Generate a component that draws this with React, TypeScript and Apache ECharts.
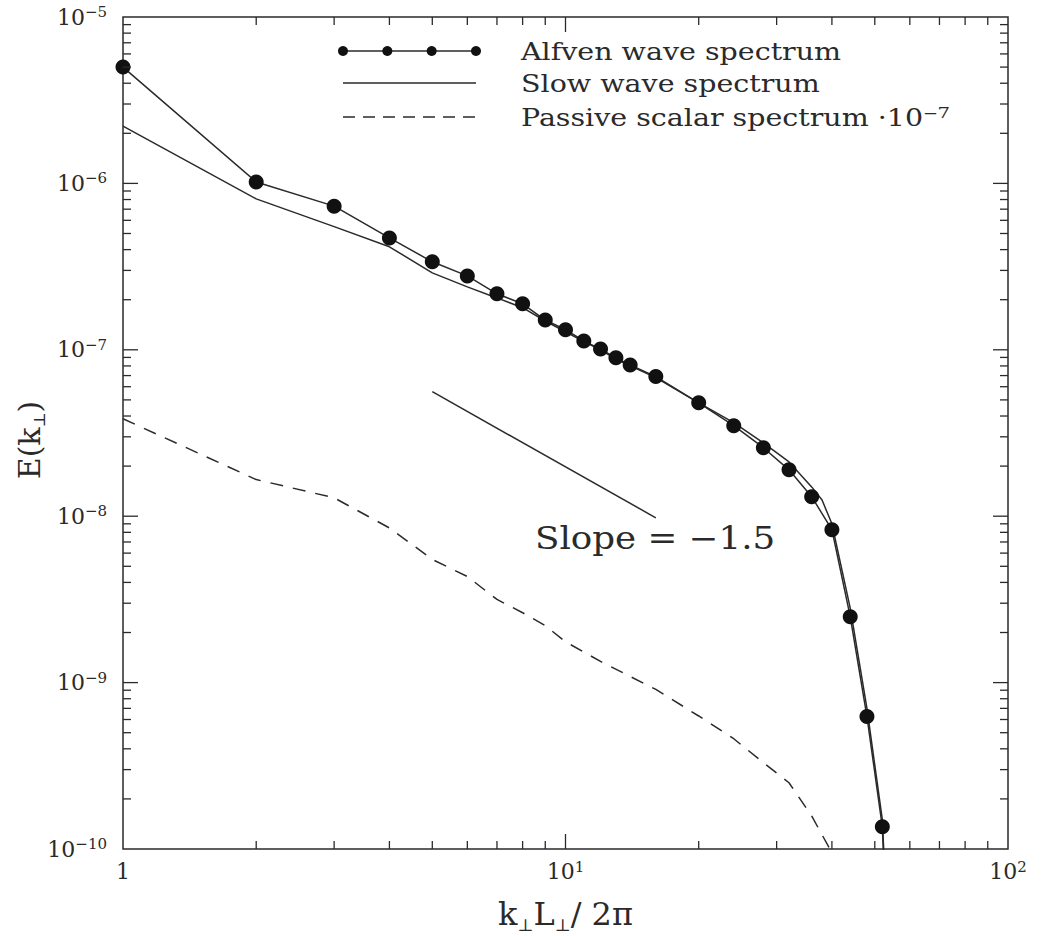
import React, { useEffect, useRef } from 'react';
import * as echarts from 'echarts';

// Wavenumber k⊥L⊥/2π and energy spectra E(k⊥)
const kAlfven = [1, 2, 3, 4, 5, 6, 7, 8, 9, 10, 11, 12, 13, 14, 16, 20, 24, 28, 32, 36, 40, 44, 48, 52, 53];
const eAlfven = [
  5.0e-6, 1.02e-6, 7.3e-7, 4.7e-7, 3.38e-7, 2.78e-7, 2.17e-7, 1.89e-7, 1.51e-7, 1.32e-7, 1.13e-7, 1.01e-7,
  8.95e-8, 8.1e-8, 6.9e-8, 4.8e-8, 3.5e-8, 2.58e-8, 1.9e-8, 1.31e-8, 8.3e-9, 2.49e-9, 6.25e-10, 1.36e-10, 4e-11,
];

const kSlow = [1, 2, 3, 4, 5, 6, 7, 8, 9, 10, 11, 12, 13, 14, 16, 20, 24, 28, 32, 36, 38, 40, 44, 48, 52, 53];
const eSlow = [
  2.21e-6, 8.07e-7, 5.5e-7, 4.16e-7, 2.9e-7, 2.39e-7, 2.05e-7, 1.79e-7, 1.49e-7, 1.28e-7, 1.12e-7, 1.0e-7,
  8.8e-8, 8.0e-8, 6.8e-8, 4.8e-8, 3.65e-8, 2.76e-8, 2.12e-8, 1.5e-8, 1.25e-8, 9.0e-9, 2.8e-9, 7e-10, 1.5e-10, 5e-11,
];

const kPassive = [1, 2, 3, 4, 5, 6, 7, 8, 9, 10, 12, 16, 20, 24, 28, 32, 36, 40];
const ePassive = [
  3.85e-8, 1.66e-8, 1.29e-8, 8.5e-9, 5.5e-9, 4.34e-9, 3.16e-9, 2.63e-9, 2.2e-9, 1.76e-9, 1.34e-9, 9.1e-10,
  6.3e-10, 4.6e-10, 3.3e-10, 2.5e-10, 1.58e-10, 9.5e-11,
];

// Reference power law
const slopeValue = -1.5;
const slopeK = [5, 16];
const slopeStartE = 5.6e-8;

// Axes
const xMin = 1;
const xMax = 100;
const yMin = 1e-10;
const yMax = 1e-5;
const xTickValues = [1, 10, 100];
const xTickBases = ['1', '10', '10'];
const xTickExps = ['', '1', '2'];
const yTickExponents = [-10, -9, -8, -7, -6, -5];
const yTickExpLabels = ['−10', '−9', '−8', '−7', '−6', '−5'];
const minorMultipliers = [2, 3, 4, 5, 6, 7, 8, 9];

const legendNames = ['Alfven wave spectrum', 'Slow wave spectrum', 'Passive scalar spectrum ·10⁻⁷'];
const slopeLabel = 'Slope = −1.5';

const ink = '#2a2a2a';
const serif = 'DejaVu Serif';

const zip = (xs: number[], ys: number[]) => xs.map((x, i) => [x, ys[i]]);

function buildTicks() {
  const ticks: number[][] = [];
  // x ticks: [x, y, kind 0, length]
  for (const d of [0, 1]) {
    for (const m of minorMultipliers) ticks.push([m * Math.pow(10, d), yMin, 0, 8]);
  }
  ticks.push([10, yMin, 0, 15]);
  // y ticks: [x, y, kind 1, length]
  for (let d = -10; d <= -6; d++) {
    for (const m of minorMultipliers) ticks.push([xMin, m * Math.pow(10, d), 1, 8]);
  }
  for (const d of [-9, -8, -7, -6]) ticks.push([xMin, Math.pow(10, d), 1, 15]);
  return ticks;
}

const powerRich = {
  b: { fontFamily: serif, fontSize: 22, color: ink, lineHeight: 25 },
  s: { fontFamily: serif, fontSize: 15, color: ink, lineHeight: 19, verticalAlign: 'top' },
};

export default function App() {
  const ref = useRef<HTMLDivElement>(null);

  useEffect(() => {
    if (!ref.current) return;
    const chart = echarts.init(ref.current, undefined, { renderer: 'svg' });

    const slopeData = [
      [slopeK[0], slopeStartE],
      [slopeK[1], slopeStartE * Math.pow(slopeK[1] / slopeK[0], slopeValue)],
    ];

    const legendX0 = 343;
    const legendX1 = 476;
    const legendRows = [51, 83, 117];
    const legendTextX = 521;
    const markerXs = [0, 1, 2, 3].map((i) => legendX0 + ((legendX1 - legendX0) * i) / 3);

    const option: any = {
      animation: false,
      backgroundColor: '#ffffff',
      grid: {
        left: 123,
        right: 33,
        top: 17,
        bottom: 87,
        containLabel: false,
        outerBoundsMode: 'none',
        show: true,
        borderColor: ink,
        borderWidth: 1.5,
        backgroundColor: 'transparent',
      },
      xAxis: {
        type: 'log',
        logBase: 10,
        min: xMin,
        max: xMax,
        axisLine: { show: false },
        axisTick: { show: false },
        splitLine: { show: false },
        axisLabel: {
          margin: 10,
          fontFamily: serif,
          fontSize: 22,
          color: ink,
          rich: powerRich,
          formatter: (v: number) => {
            const i = xTickValues.findIndex((t) => Math.abs(Math.log10(t) - Math.log10(v)) < 1e-6);
            if (i < 0) return '';
            return xTickExps[i] ? `{b|${xTickBases[i]}}{s|${xTickExps[i]}}` : `{b|${xTickBases[i]}}`;
          },
        },
        name: '{n|k}{s|⊥}{n|L}{s|⊥}{n|/ 2π}',
        nameLocation: 'middle',
        nameMoveOverlap: false,
        nameGap: 46,
        nameTextStyle: {
          color: ink,
          fontFamily: serif,
          fontSize: 32,
          rich: {
            n: { fontFamily: serif, fontSize: 32, color: ink, lineHeight: 38 },
            s: { fontFamily: serif, fontSize: 17, color: ink, lineHeight: 10, verticalAlign: 'bottom' },
          },
        },
      },
      yAxis: {
        type: 'log',
        logBase: 10,
        min: yMin,
        max: yMax,
        axisLine: { show: false },
        axisTick: { show: false },
        splitLine: { show: false },
        axisLabel: {
          margin: 16,
          fontFamily: serif,
          fontSize: 22,
          color: ink,
          rich: powerRich,
          formatter: (v: number) => {
            const e = Math.round(Math.log10(v));
            const i = yTickExponents.indexOf(e);
            return i >= 0 ? `{b|10}{s|${yTickExpLabels[i]}}` : '';
          },
        },
        name: '{n|E(k}{s|⊥}{n|)}',
        nameLocation: 'middle',
        nameMoveOverlap: false,
        nameRotate: 90,
        nameGap: 76,
        nameTextStyle: {
          color: ink,
          fontFamily: serif,
          fontSize: 30,
          padding: [0, 14, 0, 0],
          rich: {
            n: { fontFamily: serif, fontSize: 30, color: ink, lineHeight: 36 },
            s: { fontFamily: serif, fontSize: 16, color: ink, lineHeight: 10, verticalAlign: 'bottom' },
          },
        },
      },
      series: [
        {
          name: legendNames[2],
          type: 'line',
          data: zip(kPassive, ePassive),
          showSymbol: false,
          symbol: 'none',
          lineStyle: { color: ink, width: 1.5, type: [13, 10] },
          z: 2,
        },
        {
          name: legendNames[1],
          type: 'line',
          data: zip(kSlow, eSlow),
          showSymbol: false,
          symbol: 'none',
          lineStyle: { color: ink, width: 1.5 },
          z: 3,
        },
        {
          name: legendNames[0],
          type: 'line',
          data: zip(kAlfven, eAlfven),
          symbol: 'circle',
          symbolSize: 15,
          showAllSymbol: true,
          itemStyle: { color: '#111111' },
          lineStyle: { color: ink, width: 1.5 },
          z: 4,
        },
        {
          name: 'slope',
          type: 'line',
          data: slopeData,
          symbol: 'none',
          lineStyle: { color: ink, width: 1.5 },
          z: 3,
        },
        {
          name: 'ticks',
          type: 'custom',
          silent: true,
          data: buildTicks(),
          z: 5,
          renderItem: (params: any, api: any) => {
            const cs = params.coordSys;
            const kind = api.value(2);
            const len = api.value(3) as number;
            const p = api.coord([api.value(0), api.value(1)]);
            const style = { stroke: ink, lineWidth: 1.3 };
            if (kind === 0) {
              const x = p[0];
              const top = cs.y;
              const bottom = cs.y + cs.height;
              return {
                type: 'group',
                children: [
                  { type: 'line', shape: { x1: x, y1: bottom, x2: x, y2: bottom - len }, style },
                  { type: 'line', shape: { x1: x, y1: top, x2: x, y2: top + len }, style },
                ],
              };
            }
            const y = p[1];
            const left = cs.x;
            const right = cs.x + cs.width;
            return {
              type: 'group',
              children: [
                { type: 'line', shape: { x1: left, y1: y, x2: left + len, y2: y }, style },
                { type: 'line', shape: { x1: right, y1: y, x2: right - len, y2: y }, style },
              ],
            };
          },
        },
      ],
      graphic: [
        {
          type: 'group',
          silent: true,
          children: [
            {
              type: 'line',
              shape: { x1: legendX0, y1: legendRows[0], x2: legendX1, y2: legendRows[0] },
              style: { stroke: ink, lineWidth: 1.5 },
            },
            ...markerXs.map((cx) => ({
              type: 'circle',
              shape: { cx, cy: legendRows[0], r: 5 },
              style: { fill: '#111111' },
            })),
            {
              type: 'line',
              shape: { x1: legendX0, y1: legendRows[1], x2: legendX1, y2: legendRows[1] },
              style: { stroke: ink, lineWidth: 1.5 },
            },
            {
              type: 'line',
              shape: { x1: legendX0, y1: legendRows[2], x2: legendX1, y2: legendRows[2] },
              style: { stroke: ink, lineWidth: 1.5, lineDash: [12, 8] },
            },
            ...legendNames.map((t, i) => ({
              type: 'text',
              x: legendTextX,
              y: legendRows[i],
              scaleX: 1.14,
              style: {
                text: t,
                x: 0,
                y: 0,
                fontFamily: serif,
                fontSize: 25,
                fill: ink,
                verticalAlign: 'middle',
                align: 'left',
              },
            })),
            {
              type: 'text',
              x: 535,
              y: 538,
              scaleX: 1.15,
              style: {
                text: slopeLabel,
                x: 0,
                y: 0,
                fontFamily: serif,
                fontSize: 31,
                fill: ink,
                verticalAlign: 'middle',
                align: 'left',
              },
            },
          ],
        },
      ],
    };

    chart.setOption(option);
    return () => chart.dispose();
  }, []);

  return (
    <div
      ref={ref}
      style={{ position: 'fixed', left: 0, top: 0, width: 1041, height: 936, background: '#ffffff' }}
    />
  );
}
